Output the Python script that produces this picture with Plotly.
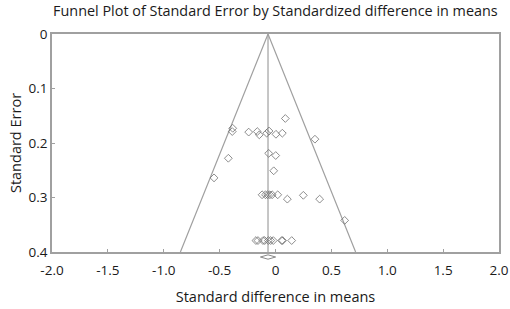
import plotly.graph_objects as go

# Study data: standardized difference in means and standard error
effect = [0.088, -0.383, -0.387, -0.240, -0.163, -0.145, -0.079, -0.058, 0.004, 0.061, 0.353,
          -0.422, -0.061, 0.002, -0.016, -0.550,
          -0.12, -0.09, -0.07, -0.05, -0.03, 0.02, 0.106, 0.249, 0.395, 0.619,
          -0.175, -0.157, -0.112, -0.097, -0.064, -0.043, -0.020, 0.055, 0.064, 0.145]
std_err = [0.155, 0.173, 0.179, 0.180, 0.179, 0.185, 0.182, 0.178, 0.184, 0.182, 0.193,
           0.228, 0.219, 0.223, 0.251, 0.264,
           0.295, 0.295, 0.295, 0.295, 0.295, 0.295, 0.303, 0.296, 0.303, 0.342,
           0.379, 0.379, 0.379, 0.379, 0.379, 0.379, 0.379, 0.379, 0.379, 0.379]

summary_effect = -0.067
summary_ci_low = -0.135
summary_ci_high = 0.001
se_max = 0.4
z = 1.96

x_tickvals = [-2.0, -1.5, -1.0, -0.5, 0, 0.5, 1.0, 1.5, 2.0]
x_ticktext = ["-2.0", "-1.5", "-1.0", "-0.5", "0", "0.5", "1.0", "1.5", "2.0"]
y_tickvals = [0, 0.1, 0.2, 0.3, 0.4]
y_ticktext = ["0", "0.1", "0.2", "0.3", "0.4"]

line_col = "#a0a0a0"
font_fam = "Open Sans, Noto Sans, sans-serif"

fig = go.Figure()
# funnel
fig.add_trace(go.Scatter(
    x=[summary_effect - z * se_max, summary_effect, summary_effect + z * se_max],
    y=[se_max, 0, se_max], mode="lines",
    line=dict(color=line_col, width=1.2), hoverinfo="skip", showlegend=False))
# vertical summary line
fig.add_trace(go.Scatter(
    x=[summary_effect, summary_effect], y=[0, se_max], mode="lines",
    line=dict(color=line_col, width=1.2), hoverinfo="skip", showlegend=False))
# studies
fig.add_trace(go.Scatter(
    x=effect, y=std_err, mode="markers",
    marker=dict(symbol="diamond-open", size=6, color="#707070", line=dict(width=0.8)),
    showlegend=False))

# summary diamond below the axis
yc, hh = -0.023, 0.010
fig.add_shape(type="path", xref="x", yref="paper",
              path=(f"M {summary_ci_low},{yc} L {summary_effect},{yc+hh} "
                    f"L {summary_ci_high},{yc} L {summary_effect},{yc-hh} Z"),
              line=dict(color="#888888", width=1), fillcolor="white", layer="above")

fig.update_layout(
    width=510, height=309,
    margin=dict(l=52, r=11, t=34, b=57, autoexpand=False),
    paper_bgcolor="white", plot_bgcolor="white",
    font=dict(family=font_fam, size=13.5, color="#1a1a1a"),
    title=dict(text="Funnel Plot of Standard Error by Standardized difference in means",
               x=0.54, xanchor="center", y=0.964, yanchor="middle",
               font=dict(size=14.4, family=font_fam)),
    xaxis=dict(range=[-2, 2], tickvals=x_tickvals, ticktext=x_ticktext, automargin=False,
               showgrid=False, zeroline=False, showline=True, linecolor=line_col,
               linewidth=1.5, mirror=True, ticks="inside", ticklen=3, tickcolor=line_col,
               ticklabelstandoff=5,
               title=dict(text="Standard difference in means", font=dict(size=14.5), standoff=14)),
    yaxis=dict(range=[se_max, 0], tickvals=y_tickvals, ticktext=y_ticktext, automargin=False,
               showgrid=False, zeroline=False, showline=True, linecolor=line_col,
               linewidth=1.5, mirror=True, ticks="inside", ticklen=3, tickcolor=line_col,
               title=dict(text="Standard Error", font=dict(size=14.5), standoff=3)),
)

fig.write_html("out.html", config={"displayModeBar": False},
               post_script="document.body.style.margin='0';")
